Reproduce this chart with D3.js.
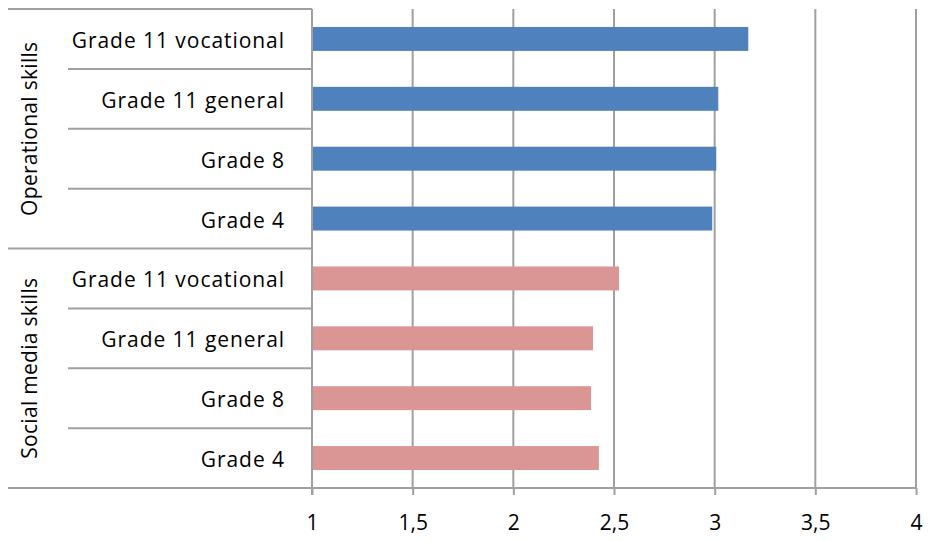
<!DOCTYPE html>
<html><head><meta charset="utf-8">
<script src="https://cdn.jsdelivr.net/npm/d3@7"></script>
<style>body{margin:0;background:#fff}svg{display:block}text{font-family:"Open Sans",Lato,sans-serif;fill:#000}</style>
</head><body>
<svg id="c" width="930" height="541"></svg>
<script>
const groups = ["Operational skills", "Social media skills"];
const categories = ["Grade 11 vocational", "Grade 11 general", "Grade 8", "Grade 4"];
const operationalValues = [3.167, 3.018, 3.008, 2.988];
const socialValues = [2.525, 2.396, 2.386, 2.425];
const tickValues = [1, 1.5, 2, 2.5, 3, 3.5, 4];
const tickLabels = ["1", "1,5", "2", "2,5", "3", "3,5", "4"];
const colors = {"Operational skills": "#4F81BD", "Social media skills": "#D99694"};

(function () {
const rows = [];
groups.forEach((g, gi) => {
  const vals = gi === 0 ? operationalValues : socialValues;
  categories.forEach((c, ci) => rows.push({group: g, cat: c, value: vals[ci], key: g + "|" + c}));
});

const svg = d3.select("#c");
const pLeft = 312, pRight = 916, pTop = 9, pBottom = 488;
const x = d3.scaleLinear().domain([1, 4]).range([pLeft, pRight]);
const y = d3.scaleBand().domain(rows.map(r => r.key)).range([pTop, pBottom]).paddingInner(0.6).paddingOuter(0.3);
const yRow = d3.scaleBand().domain(rows.map(r => r.key)).range([pTop, pBottom]);
const grid = "#a0a0a0";
const fam = "'Open Sans', Lato, sans-serif";

svg.append("g").selectAll("line").data(tickValues.slice(1)).join("line")
  .attr("x1", d => x(d)).attr("x2", d => x(d)).attr("y1", pTop).attr("y2", pBottom)
  .attr("stroke", grid).attr("stroke-width", 2);

svg.append("g").selectAll("rect").data(rows).join("rect")
  .attr("x", x(1)).attr("y", d => y(d.key)).attr("width", d => x(d.value) - x(1))
  .attr("height", y.bandwidth()).attr("fill", d => colors[d.group]);

const xa = svg.append("g").attr("transform", `translate(0,${pBottom})`)
  .call(d3.axisBottom(x).tickValues(tickValues).tickFormat((d, i) => tickLabels[i]).tickSize(7).tickPadding(20));
xa.select(".domain").remove();
xa.selectAll(".tick line").attr("stroke", grid).attr("stroke-width", 2);
xa.selectAll(".tick text").attr("font-size", 21).attr("font-family", fam).attr("fill", "#000");
svg.append("line").attr("x1", 8).attr("x2", pRight).attr("y1", pBottom).attr("y2", pBottom).attr("stroke", grid).attr("stroke-width", 2);

svg.append("line").attr("x1", pLeft).attr("x2", pLeft).attr("y1", pTop).attr("y2", pBottom + 7).attr("stroke", grid).attr("stroke-width", 2);

rows.forEach(r => {
  const ci = categories.indexOf(r.cat);
  const yy = yRow(r.key);
  svg.append("line").attr("x1", ci === 0 ? 8 : 68).attr("x2", pLeft).attr("y1", yy).attr("y2", yy)
    .attr("stroke", grid).attr("stroke-width", 2);
});

svg.append("g").selectAll("text").data(rows).join("text")
  .attr("x", 285).attr("y", d => yRow(d.key) + yRow.bandwidth() / 2 + 9)
  .attr("text-anchor", "end").attr("font-size", 21).attr("letter-spacing", 0.95).text(d => d.cat);

groups.forEach(g => {
  const keys = rows.filter(r => r.group === g).map(r => r.key);
  const y0 = yRow(keys[0]), y1 = yRow(keys[keys.length - 1]) + yRow.bandwidth();
  svg.append("text").attr("transform", `translate(37,${(y0 + y1) / 2}) rotate(-90)`)
    .attr("text-anchor", "middle").attr("font-size", 21).attr("letter-spacing", 0.3).text(g);
});
})();
</script>
</body></html>
